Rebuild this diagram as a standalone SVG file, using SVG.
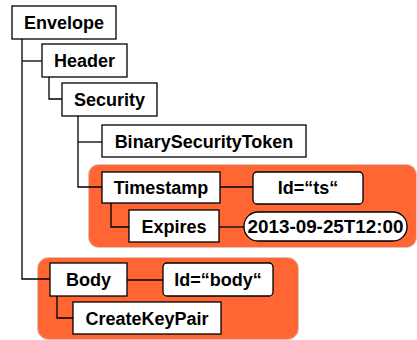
<svg xmlns="http://www.w3.org/2000/svg" width="417" height="340" viewBox="0 0 417 340">
<style>
.panel{fill:#ff6633;stroke:#dcc4bb;stroke-width:1}
.box{fill:#fff;stroke:#000;stroke-width:1.3}
.c{fill:none;stroke:#000;stroke-width:1.3}
text{font-family:"Liberation Sans",Arial,sans-serif;font-weight:bold;font-size:18px;text-anchor:middle;fill:#000}
</style>
<rect width="417" height="340" fill="#fff"/>
<g id="panel-security"><rect class="panel" x="88.5" y="164.5" width="328" height="83" rx="10"/></g>
<g id="panel-body"><rect class="panel" x="37.5" y="257.5" width="261" height="82" rx="11"/></g>
<g id="connectors">
<path class="c" d="M22,39 V279 H50"/>
<path class="c" d="M22,61 H42"/>
<path class="c" d="M49,77 V99 H62"/>
<path class="c" d="M78,116 V187 H102"/>
<path class="c" d="M78,142 H102"/>
<path class="c" d="M220,187 H253"/>
<path class="c" d="M111,203 V227 H129"/>
<path class="c" d="M219,227 H244"/>
<path class="c" d="M127,280 H163"/>
<path class="c" d="M57,296 V318 H73"/>
</g>
<g id="envelope"><rect class="box" x="12" y="6" width="104" height="33"/><text x="64" y="29">Envelope</text></g>
<g id="header"><rect class="box" x="42" y="44" width="85" height="33"/><text x="84.5" y="67">Header</text></g>
<g id="security"><rect class="box" x="62" y="83" width="95" height="33"/><text x="109.5" y="106">Security</text></g>
<g id="binarysecuritytoken"><rect class="box" x="102" y="125" width="204" height="32"/><text x="204" y="148">BinarySecurityToken</text></g>
<g id="timestamp"><rect class="box" x="102" y="172" width="118" height="31"/><text x="161" y="194">Timestamp</text></g>
<g id="id-ts"><rect class="box" x="253" y="172" width="110" height="32" rx="4"/><text x="308" y="194">Id=“ts“</text></g>
<g id="expires"><rect class="box" x="129" y="210" width="90" height="32"/><text x="174" y="233">Expires</text></g>
<g id="expires-value"><rect class="box" x="244" y="212" width="163" height="29" rx="14"/><text x="325.5" y="233" textLength="156" lengthAdjust="spacingAndGlyphs">2013-09-25T12:00</text></g>
<g id="body"><rect class="box" x="50" y="263" width="77" height="33"/><text x="88.5" y="286">Body</text></g>
<g id="id-body"><rect class="box" x="163" y="263" width="110" height="33" rx="4"/><text x="218" y="286">Id=“body“</text></g>
<g id="createkeypair"><rect class="box" x="73" y="302" width="148" height="32"/><text x="147" y="325">CreateKeyPair</text></g>
</svg>
